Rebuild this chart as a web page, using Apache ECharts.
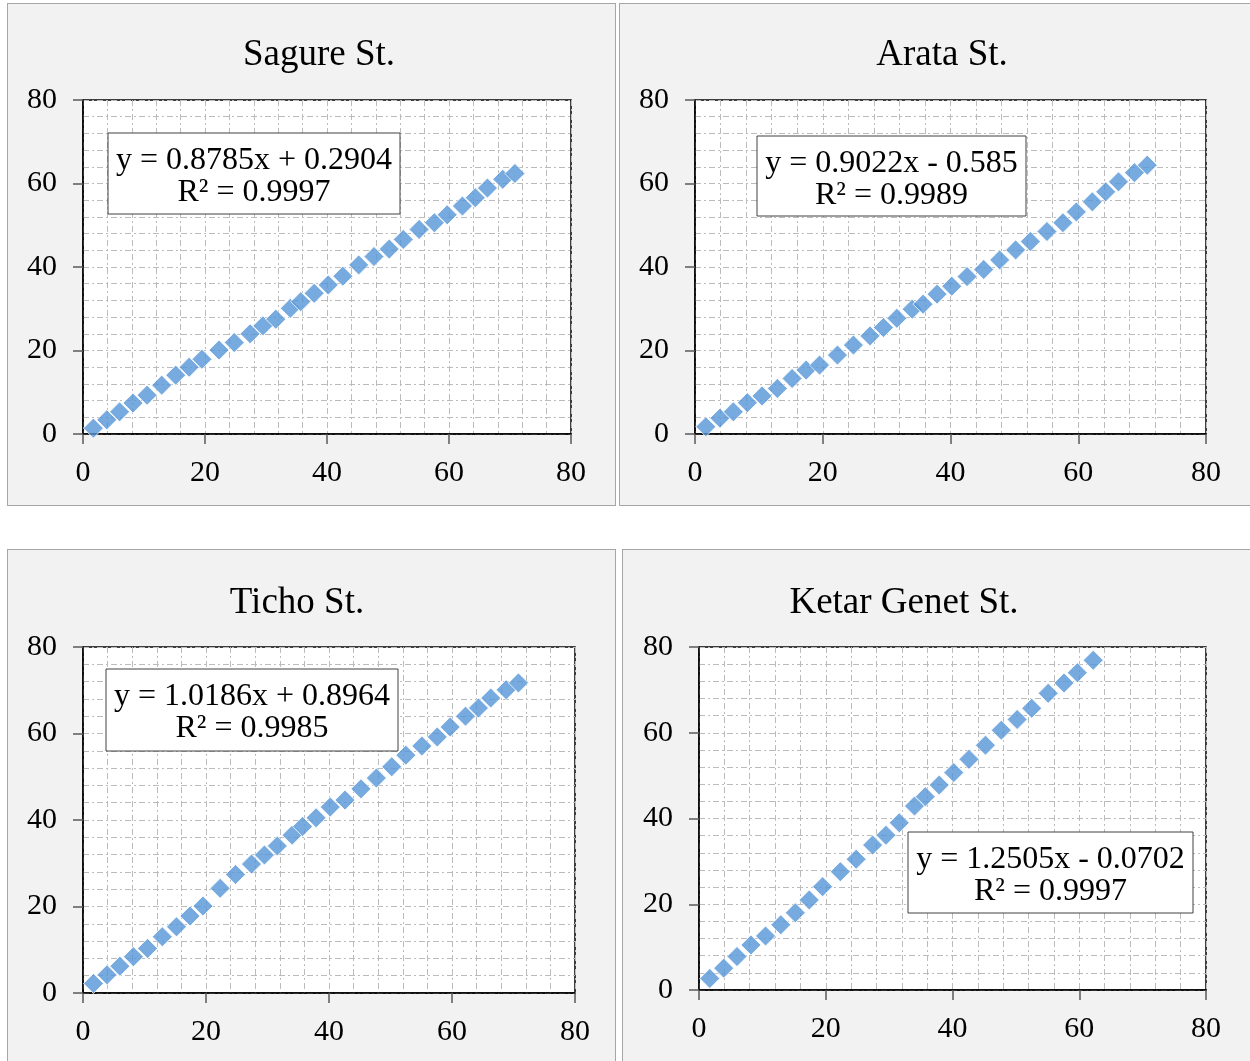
<!DOCTYPE html>
<html>
<head>
<meta charset="utf-8">
<script src="https://cdn.jsdelivr.net/npm/echarts@6/dist/echarts.min.js"></script>
<style>
  body { margin: 0; background: #fff; width: 1250px; height: 1061px; overflow: hidden; position: relative; }
  .panel { position: absolute; border: 1px solid #a6a6a6; background: #f2f2f2; }
</style>
</head>
<body>
<div id="p1" class="panel" style="left:7px;top:3px;width:607px;height:501px"></div>
<div id="p2" class="panel" style="left:619px;top:3px;width:640px;height:501px"></div>
<div id="p3" class="panel" style="left:7px;top:549px;width:607px;height:520px"></div>
<div id="p4" class="panel" style="left:622px;top:549px;width:640px;height:520px"></div>
<script>
// shared x readings (observed values)
const xValues = [1.7, 3.9, 6.0, 8.2, 10.5, 12.9, 15.2, 17.4, 19.5, 22.3, 24.8, 27.4, 29.5, 31.6, 34.0, 35.7,
  37.9, 40.2, 42.6, 45.2, 47.7, 50.2, 52.5, 55.1, 57.6, 59.7, 62.2, 64.3, 66.3, 68.8, 70.8]

const sagureY = [1.4, 3.4, 5.3, 7.4, 9.3, 11.7, 14.1, 16.0, 17.9, 20.1, 21.9, 24.0, 25.9, 27.5, 30.1, 31.7,
  33.7, 35.7, 37.8, 40.5, 42.5, 44.3, 46.6, 49.0, 50.6, 52.5, 54.6, 56.6, 58.9, 61.0, 62.4]
const arataY = [1.75, 3.8, 5.3, 7.5, 9.1, 10.9, 13.3, 15.3, 16.5, 18.9, 21.3, 23.5, 25.5, 27.7, 29.9, 31.1,
  33.5, 35.4, 37.7, 39.4, 41.7, 44.1, 46.1, 48.5, 50.6, 53.2, 55.6, 58.0, 60.4, 62.6, 64.4]
const tichoY = [2.2, 4.2, 6.2, 8.4, 10.3, 13.0, 15.3, 17.8, 20.1, 24.2, 27.4, 29.8, 31.9, 34.0, 36.5, 38.5,
  40.5, 43.0, 44.6, 47.2, 49.7, 52.3, 55.0, 57.1, 59.2, 61.5, 64.0, 65.9, 68.2, 70.1, 71.7]
const ketarY = [2.7, 5.1, 7.8, 10.5, 12.6, 15.2, 18.0, 21.0, 24.1, 27.6, 30.5, 33.8, 36.1, 39.0, 42.9, 45.1,
  47.8, 50.7, 53.8, 57.1, 60.6, 63.1, 65.7, 69.2, 71.6, 74.0, 76.9]

const titles = ['Sagure St.', 'Arata St.', 'Ticho St.', 'Ketar Genet St.']
const equations = [
  ['y = 0.8785x + 0.2904', 'R² = 0.9997'],
  ['y = 0.9022x - 0.585', 'R² = 0.9989'],
  ['y = 1.0186x + 0.8964', 'R² = 0.9985'],
  ['y = 1.2505x - 0.0702', 'R² = 0.9997'],
]
const axisMin = 0
const axisMax = 80
const axisStep = 20

const FONT = '"Liberation Serif", "Times New Roman", serif'

const panels = [
  { id: 'p1', ys: sagureY, grid: { left: 75, top: 96, width: 488, height: 334 }, titlePos: [311, 51], box: [100, 129, 292, 81] },
  { id: 'p2', ys: arataY, grid: { left: 75, top: 96, width: 511, height: 334 }, titlePos: [322, 51], box: [137, 132, 269, 80] },
  { id: 'p3', ys: tichoY, grid: { left: 75, top: 97, width: 492, height: 346 }, titlePos: [289, 53], box: [98, 119, 292, 82] },
  { id: 'p4', ys: ketarY, grid: { left: 76, top: 97, width: 507, height: 343 }, titlePos: [281, 53], box: [285, 282, 285, 81] },
]

const gridLine = { color: '#bcbcbc', width: 1, type: [6, 3, 2, 3] }

const makeAxis = (isX) => ({
  type: 'value',
  min: axisMin,
  max: axisMax,
  interval: axisStep,
  axisLine: { show: true, onZero: false, lineStyle: { color: '#000', width: 1.5 } },
  axisTick: { show: true, inside: false, length: 10, lineStyle: { color: '#595959', width: 1.5 } },
  axisLabel: { color: '#000', fontFamily: FONT, fontSize: 30, margin: isX ? 24 : 26 },
  splitLine: { show: true, lineStyle: gridLine },
  minorTick: { show: false, splitNumber: 5 },
  minorSplitLine: { show: true, lineStyle: gridLine },
})

panels.forEach((p, idx) => {
  const chart = echarts.init(document.getElementById(p.id))
  const data = p.ys.map((y, i) => [xValues[i], y])
  const [bx, by, bw, bh] = p.box
  chart.setOption({
    animation: false,
    grid: {
      ...p.grid,
      show: true,
      backgroundColor: '#fff',
      borderColor: '#000',
      borderWidth: 1.5,
    },
    xAxis: makeAxis(true),
    yAxis: makeAxis(false),
    series: [
      {
        type: 'scatter',
        data,
        symbol: 'diamond',
        symbolSize: 20,
        itemStyle: { color: '#5595d6', borderColor: '#fff', borderWidth: 1 },
        z: 3,
      },
    ],
    graphic: [
      {
        type: 'text',
        x: p.titlePos[0],
        y: p.titlePos[1],
        style: { text: titles[idx], font: `37px ${FONT}`, fill: '#000', align: 'center', verticalAlign: 'middle' },
      },
      {
        type: 'rect',
        shape: { x: bx, y: by, width: bw, height: bh },
        style: { fill: '#fff', stroke: '#404040', lineWidth: 1 },
        z: 10,
      },
      {
        type: 'text',
        x: bx + bw / 2,
        y: by + 28,
        z: 11,
        style: { text: equations[idx][0], font: `32px ${FONT}`, fill: '#000', align: 'center', verticalAlign: 'middle' },
      },
      {
        type: 'text',
        x: bx + bw / 2,
        y: by + 60,
        z: 11,
        style: { text: equations[idx][1], font: `32px ${FONT}`, fill: '#000', align: 'center', verticalAlign: 'middle' },
      },
    ],
  })
})
</script>
</body>
</html>
